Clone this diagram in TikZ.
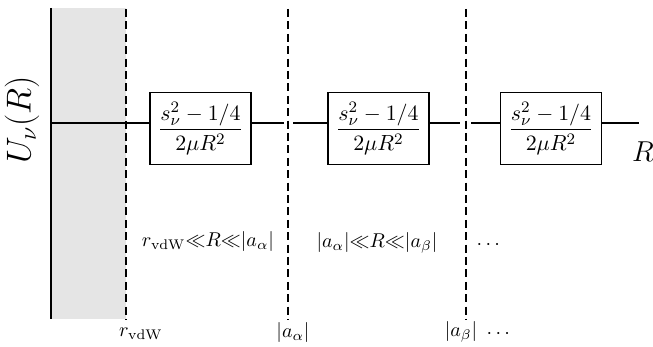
\documentclass[tikz,border=0pt]{standalone}
\usepackage{amsmath}
\begin{document}
\begin{tikzpicture}[x=0.5pt,y=-0.5pt,
  axisline/.style={line width=1pt},
  sepline/.style={line width=0.9pt, dash pattern=on 4pt off 2.2pt},
  termbox/.style={draw, line width=0.9pt, minimum width=50.5pt, minimum height=36pt, inner sep=0pt, font=\fontsize{11}{13}\selectfont},
  lbl/.style={inner sep=0pt, font=\fontsize{10}{12}\selectfont}]
\useasboundingbox (0,0) rectangle (653,347);
\fill[black!10] (50.5,8) rectangle (126,319);
% axis
\coordinate (axtop) at (50.5,8);
\coordinate (axbot) at (50.5,319);
\draw[axisline] (axtop) -- (axbot);
% separators
\coordinate (rt) at (126,9); \coordinate (rb) at (126,320);
\coordinate (at) at (288,9); \coordinate (ab) at (288,320);
\coordinate (bt) at (466,9); \coordinate (bb) at (466,320);
\draw[sepline] (rt) -- (rb);
\draw[sepline] (at) -- (ab);
\draw[sepline] (bt) -- (bb);
% boxes
\node[termbox] (b1) at (200.5,128.5) {$\dfrac{s_\nu^2-1/4}{2\mu R^2}$};
\node[termbox] (b2) at (378.5,128.5) {$\dfrac{s_\nu^2-1/4}{2\mu R^2}$};
\node[termbox] (b3) at (551,128.5) {$\dfrac{s_\nu^2-1/4}{2\mu R^2}$};
% horizontal line
\coordinate (h0) at (50.5,123);
\coordinate (ga1) at (284,123); \coordinate (ga2) at (293,123);
\coordinate (gb1) at (460,123); \coordinate (gb2) at (471,123);
\coordinate (hend) at (639,123);
\draw[axisline] (h0) -- (b1.west |- h0);
\draw[axisline] (b1.east |- h0) -- (ga1);
\draw[axisline] (ga2) -- (b2.west |- h0);
\draw[axisline] (b2.east |- h0) -- (gb1);
\draw[axisline] (gb2) -- (b3.west |- h0);
\draw[axisline] (b3.east |- h0) -- (hend);
% axis labels
\node[inner sep=0pt, rotate=90, font=\fontsize{17}{20}\selectfont] (ulab) at (22,120) {$U_\nu(R)$};
\node[inner sep=0pt, font=\fontsize{14}{17}\selectfont] (rlab) at (643,152) {$R$};
% region labels
\node[lbl] (reg1) at (208,242) {$r_{\mathrm{vdW}}{\ll}R{\ll}|a_\alpha|$};
\node[lbl] (reg2) at (377,243) {$|a_\alpha|{\ll}R{\ll}|a_\beta|$};
\node[lbl] (reg3) at (490,245) {$\cdots$};
% bottom labels
\node[lbl] (l1) at (141,334) {$r_{\mathrm{vdW}}$};
\node[lbl] (l2) at (293,332) {$|a_\alpha|$};
\node[lbl] (l3) at (461,332) {$|a_\beta|$};
\node[lbl] (l4) at (500,334) {$\cdots$};
\end{tikzpicture}
\end{document}
